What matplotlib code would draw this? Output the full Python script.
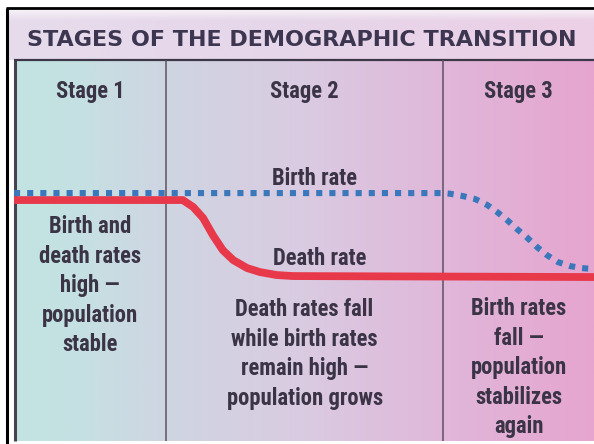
import numpy as np
import matplotlib
matplotlib.use("Agg")
import matplotlib.pyplot as plt
from matplotlib import font_manager as fm
from matplotlib.colors import to_rgb
from matplotlib.transforms import blended_transform_factory

# ---------------- data ----------------
title = "STAGES OF THE DEMOGRAPHIC TRANSITION"
stage_labels = ["Stage 1", "Stage 2", "Stage 3"]
stage_notes = [
    "Birth and\ndeath rates\nhigh \u2014\npopulation\nstable",
    "Death rates fall\nwhile birth rates\nremain high \u2014\npopulation grows",
    "Birth rates\nfall \u2014\npopulation\nstabilizes\nagain",
]
stage_bounds = [0, 26.2, 74.0, 100]          # time axis (0-100)
series_labels = ["Birth rate", "Death rate"]

birth_t = [0, 74.0, 75.2, 77.4, 79.5, 81.6, 83.3, 85.0, 86.7, 88.4, 90.2,
           91.9, 93.8, 95.9, 97.9, 100]
birth_v = [40, 40, 39.8, 39.1, 38.2, 36.4, 34.3, 31.9, 29.2, 26.7, 23.7,
           21.3, 19.2, 18.0, 17.4, 17.1]
death_t = [0, 29.1, 30.9, 32.6, 34.3, 36.0, 37.8, 40.2, 42.4, 45.3, 48.1, 100]
death_v = [37.9, 37.9, 35.8, 32.5, 27.3, 22.8, 19.8, 17.4, 16.2, 15.3, 15.0, 14.7]

# ---------------- fonts ----------------
names = {f.name for f in fm.fontManager.ttflist}
narrow = next((n for n in ["Liberation Sans Narrow", "Roboto Condensed",
                           "Open Sans Condensed", "Liberation Sans"] if n in names),
              "DejaVu Sans")

TXT = "#3a3446"
W, H = 594, 444
fig = plt.figure(figsize=(W / 100, H / 100), dpi=100)
fig.patch.set_facecolor("white")

bg = fig.add_axes([0, 0, 1, 1])
bg.axis("off")


def hgrad(stops, ncols=300):
    xs = np.linspace(0, 1, ncols)
    pos = [p for p, _ in stops]
    cols = np.array([to_rgb(c) for _, c in stops])
    return np.stack([np.interp(xs, pos, cols[:, k]) for k in range(3)], axis=-1)


# title band
band = hgrad([(0, "#e6dcec"), (0.5, "#e6d6ea"), (1, "#ecd0e6")])
rows = np.linspace(0, 1, 60)[:, None, None]
fade = np.clip(rows / 0.22, 0, 1)
band_img = band[None, :, :] * fade + np.array([0.97, 0.95, 0.97]) * (1 - fade)
bg.imshow(band_img, extent=(8, W, 60, 9), aspect="auto", interpolation="bilinear")

# panel
panel = hgrad([(0, "#c2e4e2"), (0.12, "#c6e0e2"), (0.26, "#cfd5e2"),
               (0.5, "#dacbe1"), (0.74, "#e0b7da"), (1, "#e6a5cf")])
bg.imshow(panel[None, :, :], extent=(14, W, 441, 60), aspect="auto",
          interpolation="bilinear")

bg.set_xlim(0, W)
bg.set_ylim(H, 0)

# outer frame
bg.plot([7, 7], [8, H], color="black", lw=2.2, solid_capstyle="butt")
bg.plot([6, W], [8, 8], color="black", lw=2.0, solid_capstyle="butt")
# panel border
bg.plot([14.5, 14.5], [59, 441], color="#48414f", lw=2.2, solid_capstyle="butt")
bg.plot([13.5, W], [60, 60], color="#3d3848", lw=1.6, solid_capstyle="butt")

# data axes over the panel
ax = fig.add_axes([14 / W, (H - 441) / H, (W - 14) / W, (441 - 60) / H])
ax.set_xlim(0, 100)
ax.set_ylim(-34.7, 80.1)
ax.axis("off")
ax.patch.set_alpha(0)

for b in stage_bounds[1:-1]:
    ax.axvline(b, color="#5b5262", lw=1.1)

ax.plot(death_t, death_v, color="#e8394b", lw=5.6, solid_capstyle="butt",
        solid_joinstyle="round")
ax.plot(birth_t, birth_v, color="#3b78bb", lw=4.4, linestyle=(0, (1.0, 1.15)),
        dash_capstyle="butt", dash_joinstyle="round")

# texts
bg.text(302, 46.5, title, ha="center", va="baseline", fontsize=16,
        fontweight="bold", color="#3c3650", family="DejaVu Sans")

trans = blended_transform_factory(ax.transData, bg.transData)
LINE = 28.5
note_first = [237, 319, 319]
for i, (lab, note) in enumerate(zip(stage_labels, stage_notes)):
    cx = (stage_bounds[i] + stage_bounds[i + 1]) / 2
    ax.text(cx, 97.5, lab, transform=trans, ha="center", va="baseline",
            fontsize=16.3, fontweight="bold", color=TXT, family=narrow)
    n = note.count("\n")
    ax.text(cx, note_first[i] + n * LINE, note, transform=trans, ha="center",
            va="baseline", multialignment="center", linespacing=1.36,
            fontsize=16.3, fontweight="bold", color=TXT, family=narrow)

bg.text(315, 185, series_labels[0], ha="center", va="baseline", fontsize=16.3,
        fontweight="bold", color=TXT, family=narrow)
bg.text(320, 265, series_labels[1], ha="center", va="baseline", fontsize=16.3,
        fontweight="bold", color=TXT, family=narrow)

fig.savefig("out.png", dpi=100, facecolor="white")
